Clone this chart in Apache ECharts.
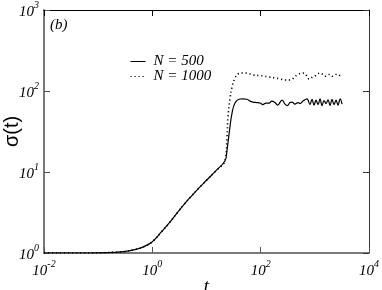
<!DOCTYPE html>
<html><head><meta charset="utf-8">
<script src="https://cdn.jsdelivr.net/npm/echarts@6/dist/echarts.min.js"></script>
<style>html,body{margin:0;padding:0;background:#fff}#c{width:382px;height:290px}</style>
</head><body><div id="c"></div>
<script>
// shared early growth (both N)
var tEarly = [0.01, 0.05, 0.1, 0.2, 0.3, 0.5, 0.7, 1.0, 1.5, 2, 3, 4, 5, 7, 10, 15, 22];
var sEarly = [1.0, 1.0, 1.005, 1.02, 1.04, 1.11, 1.2, 1.38, 1.85, 2.3, 3.25, 4.1, 4.85, 6.2, 7.9, 10.4, 13.8];
// N = 500 after the jump
var t500 = [23.9, 24.9, 27.1, 29.6, 33.6, 41.5, 47.2, 56, 63.5, 72, 85, 97, 110, 125, 143, 160, 184, 205, 248, 281, 310, 348, 380, 430, 490, 532, 604, 716, 814,
            887, 966, 1052, 1146, 1247, 1358, 1479, 1611, 1754, 1910, 2080, 2265, 2466, 2685, 2924, 3184];
var s500 = [18.5, 22.8, 35.9, 53.5, 71, 79.7, 80, 79, 75, 73, 72, 71, 68, 71, 71, 75, 72, 67, 77, 69, 66, 72, 73, 69, 72, 70, 75, 80, 68,
            79, 67, 77, 68, 80, 66, 76, 70, 78, 66, 79, 68, 77, 67, 80, 69];
// N = 1000 after the jump
var t1000 = [23.9, 24.9, 27.1, 29.6, 33.6, 38.1, 47.2, 56, 72.1, 97, 110, 143, 184, 227, 281, 348, 410, 469, 604, 680, 716, 770, 814, 900, 1007, 1100, 1245, 1400, 1538, 1700, 1905, 2100, 2355, 2600, 2911, 3170];
var s1000 = [27, 47.8, 79.7, 112, 145, 162, 167, 166, 158, 155, 153, 149, 145, 141, 137, 137, 145, 158, 167, 160, 149, 141, 140, 148, 153, 160, 167, 160, 152, 158, 160, 152, 158, 162, 156, 158];
var legendNames = ['N = 500', 'N = 1000'];

function pairs(ta, sa) { return ta.map(function (t, i) { return [t, sa[i]]; }); }
var d500 = pairs(tEarly, sEarly).concat(pairs(t500, s500));
var d1000 = pairs(tEarly, sEarly).concat(pairs(t1000, s1000));

function powLabel(v) {
  var e = Math.round(Math.log10(v));
  return '{b|10}{s|' + e + '}';
}
var rich = {
  b: { fontFamily: 'Liberation Serif', fontStyle: 'italic', fontSize: 15, color: '#000', lineHeight: 20, verticalAlign: 'bottom' },
  s: { fontFamily: 'Liberation Serif', fontStyle: 'italic', fontSize: 10, color: '#000', verticalAlign: 'top', lineHeight: 10 }
};
var serif = 'Liberation Serif';
var chart = echarts.init(document.getElementById('c'), null, { renderer: 'canvas' });
chart.setOption({
  animation: false,
  backgroundColor: '#fff',
  title: { text: '(b)', left: 50, top: 18, padding: 0, textStyle: { fontFamily: serif, fontStyle: 'italic', fontWeight: 'normal', fontSize: 15, color: '#000' } },
  legend: {
    data: legendNames, orient: 'vertical', left: 130, top: 54, itemWidth: 15, itemHeight: 8, itemGap: 0, padding: 0,
    itemStyle: { opacity: 0 },
    lineStyle: { width: 1 },
    textStyle: { fontFamily: serif, fontStyle: 'italic', fontSize: 15, color: '#000', lineHeight: 12, padding: [0, 0, 0, 3] }
  },
  grid: { left: 44, right: 13, top: 10, bottom: 37, outerBoundsMode: 'none', containLabel: false },
  xAxis: [{
    type: 'log', logBase: 10, min: 0.01, max: 10000, interval: 2, position: 'bottom',
    name: 't', nameLocation: 'middle', nameGap: 24, nameMoveOverlap: false,
    nameTextStyle: { fontFamily: serif, fontStyle: 'italic', fontSize: 19, color: '#000' },
    axisLine: { lineStyle: { color: '#7a7a7a', width: 2 } },
    axisTick: { inside: true, length: 6, lineStyle: { color: '#555', width: 1 } },
    minorTick: { show: false },
    axisLabel: { formatter: powLabel, rich: rich, margin: 6, showMinLabel: true, showMaxLabel: true },
    splitLine: { show: false }
  }, {
    type: 'log', logBase: 10, min: 0.01, max: 10000, interval: 2, position: 'top',
    axisLine: { lineStyle: { color: '#000', width: 1 } },
    axisTick: { inside: true, length: 6, lineStyle: { color: '#000', width: 1 } },
    axisLabel: { show: false }, splitLine: { show: false }
  }],
  yAxis: [{
    type: 'log', logBase: 10, min: 1, max: 1000, interval: 1, position: 'left',
    name: 'σ(t)', nameLocation: 'middle', nameGap: 22, nameMoveOverlap: false,
    nameTextStyle: { fontFamily: 'Liberation Sans', fontSize: 20, color: '#000' },
    axisLine: { lineStyle: { color: '#7a7a7a', width: 2 } },
    axisTick: { inside: true, length: 6, lineStyle: { color: '#555', width: 1 } },
    axisLabel: { formatter: powLabel, rich: rich, margin: 5 },
    splitLine: { show: false }
  }, {
    type: 'log', logBase: 10, min: 1, max: 1000, interval: 1, position: 'right',
    axisLine: { lineStyle: { color: '#333', width: 1 } },
    axisTick: { inside: true, length: 6, lineStyle: { color: '#333', width: 1 } },
    axisLabel: { show: false }, splitLine: { show: false }
  }],
  series: [{
    name: legendNames[0], type: 'line', data: d500, symbol: 'none', smooth: 0.4,
    lineStyle: { color: '#000', width: 1.2, type: 'solid' }, itemStyle: { color: '#000' }, z: 3
  }, {
    name: legendNames[1], type: 'line', data: d1000, symbol: 'none', smooth: 0.4,
    lineStyle: { color: '#000', width: 1.6, type: [1.2, 2.8] }, itemStyle: { color: '#000' }, z: 2
  }]
});
</script></body></html>
